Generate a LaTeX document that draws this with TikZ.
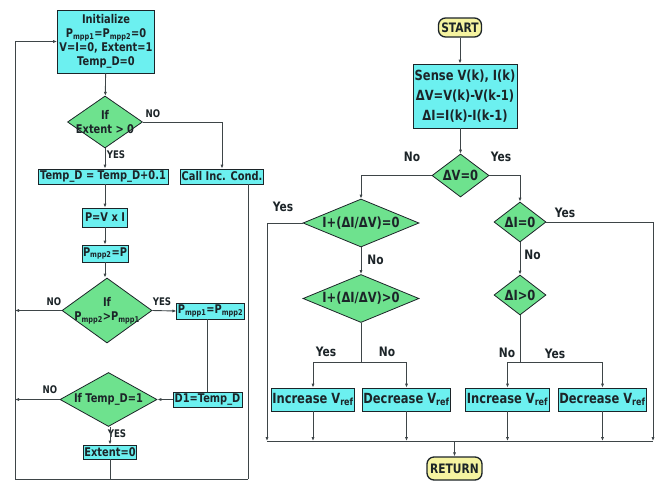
\documentclass[tikz,border=0pt]{standalone}
\usepackage{fontspec}
\setmainfont{DejaVu Sans}[FakeStretch=0.82]
\usepackage{xcolor}
\usetikzlibrary{shapes.geometric,arrows.meta}
\definecolor{boxcyan}{RGB}{108,240,240}
\definecolor{decgreen}{RGB}{110,226,142}
\definecolor{termyel}{RGB}{245,243,160}
\definecolor{inkc}{RGB}{28,36,40}

\begin{document}
\begin{tikzpicture}[
  x=1pt, y=-1pt,
  box/.style={draw=inkc, line width=0.8pt, fill=boxcyan, align=center, inner sep=1pt, text=inkc},
  lbox/.style={box, font=\bfseries\fontsize{12}{14}\selectfont},
  rbox/.style={box, font=\bfseries\fontsize{14}{20}\selectfont},
  dec/.style={diamond, draw=inkc, line width=0.8pt, fill=decgreen, inner sep=0pt},
  ltxt/.style={align=center, text=inkc, inner sep=0pt, font=\bfseries\fontsize{12}{14}\selectfont},
  rtxt/.style={align=center, text=inkc, inner sep=0pt, font=\bfseries\fontsize{14}{17}\selectfont},
  term/.style={draw=inkc, line width=1.3pt, fill=termyel, rounded corners=7pt, inner sep=1pt, text=inkc, font=\bfseries\fontsize{13}{15}\selectfont},
  arr/.style={-{Latex[length=4pt,width=3.2pt]}, draw=inkc!85, line width=0.9pt},
  lnk/.style={draw=inkc!85, line width=0.9pt},
  lab/.style={text=inkc, inner sep=0pt, font=\bfseries\fontsize{10.5}{12}\selectfont},
  rlab/.style={text=inkc, inner sep=0pt, font=\bfseries\fontsize{13}{14}\selectfont},
]
\useasboundingbox (0,0) rectangle (655,482);

% left chart
\node[lbox, minimum width=97pt, minimum height=63pt] (init) at (106,41.5) {Initialize\\P\textsubscript{mpp1}=P\textsubscript{mpp2}=0\\V=I=0, Extent=1\\Temp\_D=0};
\node[dec, minimum width=75pt, minimum height=52pt, label={[ltxt]center:If\\Extent > 0}] (ext) at (105,122) {};
\node[lbox, minimum width=130pt, minimum height=15pt] (tmp) at (103,176.5) {Temp\_D = Temp\_D+0.1};
\node[lbox, minimum width=80pt, minimum height=15pt] (call) at (222,176.5) {Call Inc. Cond.};
\node[lbox, minimum width=45pt, minimum height=19pt] (pvi) at (105,217.5) {P=V x I};
\node[lbox, minimum width=42pt, minimum height=17pt] (pm2) at (105,253.5) {P\textsubscript{mpp2}=P};
\node[dec, minimum width=90pt, minimum height=65pt, label={[ltxt]center:If\\P\textsubscript{mpp2}>P\textsubscript{mpp1}}] (cmp) at (107,310.5) {};
\node[lbox, minimum width=65pt, minimum height=16pt] (upd) at (210.5,311) {P\textsubscript{mpp1}=P\textsubscript{mpp2}};
\node[lbox, minimum width=69pt, minimum height=15pt] (d1) at (207.5,399.5) {D1=Temp\_D};
\node[dec, minimum width=97pt, minimum height=54pt, label={[ltxt]center:If Temp\_D=1}] (tdd) at (108.5,399.5) {};
\node[lbox, minimum width=53pt, minimum height=14pt] (ext0) at (110,452) {Extent=0};
\coordinate (bl) at (15,479);
\coordinate (br) at (248,479);

\node[lab] (no1) at (153,114) {NO};
\node[lab] (yes1) at (116,155) {YES};
\node[lab] (no2) at (54,302) {NO};
\node[lab] (yes2) at (162,302) {YES};
\node[lab] (no3) at (50,390) {NO};
\node[lab] (yes3) at (117,434) {YES};

\draw[arr] (init) -- (ext);
\draw[arr] (ext.east) -| (call);
\draw[arr] (ext) -- (ext |- tmp.north);
\draw[arr] (tmp.south -| pvi) -- (pvi);
\draw[arr] (pvi) -- (pm2);
\draw[arr] (pm2) -- (pm2 |- cmp.north);
\draw[arr] (cmp.west) -- (cmp.west -| bl);
\draw[arr] (cmp.east) -- (upd.west);
\draw[lnk] (upd.south -| d1.north) -- (d1.north);
\draw[arr] (d1.west) -- (tdd.east);
\draw[arr] (tdd.west) -- (tdd.west -| bl);
\draw[arr] (tdd.south -| ext0) -- (ext0);
\draw[lnk] (ext0) -- (ext0 |- bl);
\draw[lnk] (call.south -| br) -- (br);
\draw[arr] (br) -- (bl) -- (bl |- init.west) -- (init.west);

% right chart
\node[term, minimum width=43pt, minimum height=19pt] (start) at (460,27.5) {START};
\node[rbox, minimum width=104pt, minimum height=64pt] (sense) at (465,96) {Sense V(k), I(k)\\ΔV=V(k)-V(k-1)\\ΔI=I(k)-I(k-1)};
\node[dec, minimum width=57pt, minimum height=43pt, label={[rtxt]center:ΔV=0}] (dv) at (460.5,175.5) {};
\node[dec, minimum width=116pt, minimum height=48pt, label={[rtxt]center:I+(ΔI/ΔV)=0}] (eq0) at (361,223) {};
\node[dec, minimum width=116pt, minimum height=48pt, label={[rtxt]center:I+(ΔI/ΔV)>0}] (gt0) at (361,298.5) {};
\node[dec, minimum width=52pt, minimum height=40pt, label={[rtxt]center:ΔI=0}] (di0) at (520,222) {};
\node[dec, minimum width=52pt, minimum height=40pt, label={[rtxt]center:ΔI>0}] (dig) at (520,295) {};
\node[rbox, minimum width=80pt, minimum height=23pt] (inc1) at (313,399.5) {Increase V\textsubscript{ref}};
\node[rbox, minimum width=81pt, minimum height=23pt] (dec1) at (406.5,399.5) {Decrease V\textsubscript{ref}};
\node[rbox, minimum width=81pt, minimum height=23pt] (inc2) at (507.5,399.5) {Increase V\textsubscript{ref}};
\node[rbox, minimum width=83pt, minimum height=23pt] (dec2) at (602.5,399.5) {Decrease V\textsubscript{ref}};
\node[term, minimum width=55pt, minimum height=23pt] (ret) at (454.5,468.5) {RETURN};
\coordinate (yl) at (267,441);
\coordinate (yr) at (653,441);
\coordinate (j1) at (361,362.5);
\coordinate (j2) at (520,362.5);

\node[rlab] (nodv) at (412,157) {No};
\node[rlab] (yesdv) at (501,157) {Yes};
\node[rlab] (yeseq) at (283,207) {Yes};
\node[rlab] (noeq) at (375.5,260) {No};
\node[rlab] (yesdi) at (565,213) {Yes};
\node[rlab] (nodi) at (532.5,255) {No};
\node[rlab] (yesgt) at (326,352) {Yes};
\node[rlab] (nogt) at (387,352) {No};
\node[rlab] (nodg) at (507,353) {No};
\node[rlab] (yesdg) at (555,354) {Yes};

\draw[arr] (start) -- (start |- sense.north);
\draw[arr] (sense.south -| dv) -- (dv);
\draw[arr] (dv.west) -| (eq0);
\draw[arr] (dv.east) -| (di0);
\draw[arr] (eq0.west) -| (yl);
\draw[arr] (eq0) -- (gt0);
\draw[lnk] (gt0.south) -- (j1);
\draw[arr] (j1) -| (inc1);
\draw[arr] (j1) -| (dec1);
\draw[arr] (di0.east) -| (yr);
\draw[arr] (di0) -- (dig);
\draw[lnk] (dig.south) -- (j2);
\draw[arr] (j2) -| (inc2);
\draw[arr] (j2) -| (dec2);
\foreach \b in {inc1,dec1,inc2,dec2}
  \draw[arr] (\b) -- (\b |- yl);
\draw[lnk] (yl) -- (yr);
\draw[arr] (ret |- yl) -- (ret);
\end{tikzpicture}
\end{document}
